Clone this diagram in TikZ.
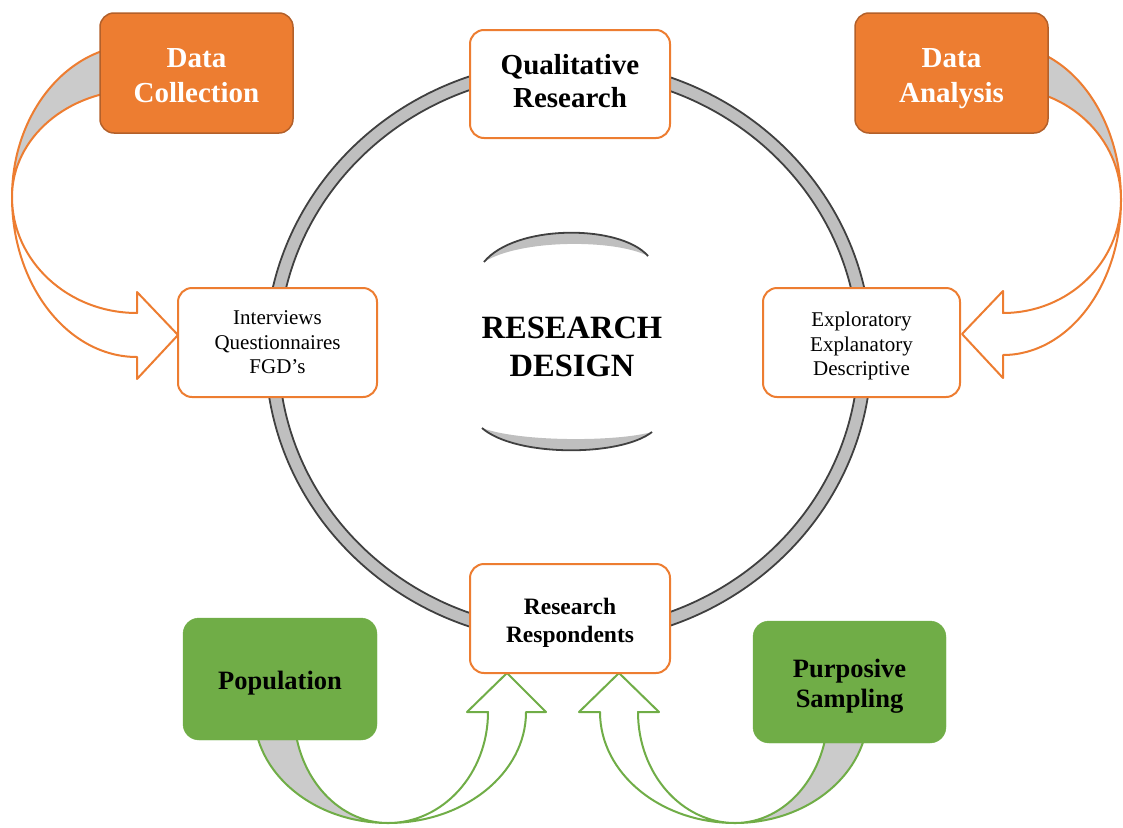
\documentclass[tikz,border=0pt]{standalone}
\usepackage{fontspec}
\setmainfont{Liberation Serif}
\definecolor{boxorange}{HTML}{ED7D31}
\definecolor{boxorangedark}{HTML}{B3602A}
\definecolor{boxgreen}{HTML}{70AD47}
\definecolor{bandgray}{HTML}{CBCBCB}
\definecolor{ringgray}{HTML}{BFBFBF}
\definecolor{ringline}{HTML}{404040}
% invisible struts that fix how far a box's text reaches above and below
\newcommand{\linetop}[1]{\rule{0pt}{#1}}
\newcommand{\linebot}[1]{\rule[-#1]{0pt}{#1}}
\tikzset{
    topbox/.style={rectangle, rounded corners=14pt, fill=boxorange, draw=boxorangedark, line width=1.5pt, text=white, align=center, inner sep=0, minimum width=193pt, minimum height=120pt, font=\bfseries\fontsize{29}{35}\selectfont},
    whitebox/.style={rectangle, rounded corners=14pt, draw=boxorange, fill=white, line width=2pt, align=center, inner sep=0, minimum height=109pt},
    greenbox/.style={rectangle, rounded corners=16pt, fill=boxgreen, draw=boxgreen, align=center, inner sep=0, minimum width=194pt, minimum height=122pt, font=\bfseries\fontsize{26.5}{30.5}\selectfont},
    ring/.style={fill=ringgray, draw=ringline, line width=1.8pt, even odd rule},
    orangeband/.style={draw=boxorange, line width=2pt, line join=round},
    greenband/.style={draw=boxgreen, line width=2pt, line join=round}
}

\begin{document}
\begin{tikzpicture}[x=1pt, y=-1pt]
    \useasboundingbox (0,0) rectangle (1123,827);

    % outer ring and the two inner arcs
    \draw[ring] (568.5,351.5) ellipse[x radius=303, y radius=291]
                (568.5,351.5) ellipse[x radius=290, y radius=278];
    \fill[ringgray] (484,262) .. controls (515,224) and (620,224) .. (648,256)
                    .. controls (615,239) and (520,239) .. cycle;
    \draw[ringline, line width=1.8pt] (484,262) .. controls (515,224) and (620,224) .. (648,256);
    \fill[ringgray] (482,428) .. controls (515,457) and (620,457) .. (652,432)
                    .. controls (615,442) and (520,442) .. cycle;
    \draw[ringline, line width=1.8pt] (482,428) .. controls (515,457) and (620,457) .. (652,432);

    % curved block arrows, back part first
    \draw[orangeband, fill=bandgray] (12,197) arc[start angle=180, end angle=270, x radius=125, y radius=152]
        -- (137,90) arc[start angle=270, end angle=180, x radius=125, y radius=107] -- cycle;
    \draw[orangeband, fill=white] (12,197) arc[start angle=180, end angle=90, x radius=125, y radius=160]
        -- (137,379) -- (178,335) -- (137,292) -- (137,313)
        arc[start angle=90, end angle=180, x radius=125, y radius=116] -- cycle;

    \draw[orangeband, fill=bandgray] (1121,200) arc[start angle=0, end angle=-90, x radius=118, y radius=155]
        -- (1003,88) arc[start angle=-90, end angle=0, x radius=118, y radius=112] -- cycle;
    \draw[orangeband, fill=white] (1121,200) arc[start angle=0, end angle=90, x radius=118, y radius=155]
        -- (1003,378) -- (962,334) -- (1003,291) -- (1003,313)
        arc[start angle=90, end angle=0, x radius=118, y radius=113] -- cycle;

    \draw[greenband, fill=bandgray] (388,823) arc[start angle=90, end angle=180, x radius=134, y radius=111]
        -- (294,712) arc[start angle=180, end angle=90, x radius=94, y radius=111] -- cycle;
    \draw[greenband, fill=white] (388,823) arc[start angle=90, end angle=0, x radius=138, y radius=111]
        -- (546,712) -- (507,673) -- (467,712) -- (488,712)
        arc[start angle=0, end angle=90, x radius=100, y radius=111] -- cycle;

    \draw[greenband, fill=bandgray] (735,823) arc[start angle=90, end angle=0, x radius=133, y radius=111]
        -- (828,712) arc[start angle=0, end angle=90, x radius=93, y radius=111] -- cycle;
    \draw[greenband, fill=white] (735,823) arc[start angle=90, end angle=180, x radius=135, y radius=111]
        -- (579,712) -- (619,673) -- (659,712) -- (638,712)
        arc[start angle=180, end angle=90, x radius=97, y radius=111] -- cycle;

    % boxes
    \node[topbox] (dcol) at (196.5,73) {\linetop{32pt}Data\\Collection\linebot{8.7pt}};
    \node[topbox] (dana) at (951.5,73) {\linetop{32pt}Data\\Analysis\linebot{8.7pt}};
    \node[whitebox, minimum width=200pt, minimum height=108pt, font=\bfseries\fontsize{29}{33}\selectfont] (qual) at (570,84) {\linetop{23pt}Qualitative\\Research\linebot{8.7pt}};
    \node[whitebox, minimum width=200pt, font=\bfseries\fontsize{23.5}{28}\selectfont] (resp) at (570,618.5) {\linetop{26.4pt}Research\\Respondents\linebot{7pt}};
    \node[whitebox, minimum width=199pt, font=\fontsize{21}{24.5}\selectfont] (intv) at (277.5,342.5) {\linetop{19.4pt}Interviews\\Questionnaires\\FGD’s\linebot{6.3pt}};
    \node[whitebox, minimum width=197pt, font=\fontsize{21}{24.5}\selectfont] (expl) at (861.5,342.5) {\linetop{24pt}Exploratory\\Explanatory\\Descriptive\linebot{6.3pt}};
    \node[greenbox] (popu) at (280,679) {\linetop{28.6pt}Population\linebot{8pt}};
    \node[greenbox, minimum width=193pt] (purp) at (849.5,682) {\linetop{28.6pt}Purposive\\Sampling\linebot{8pt}};
    \node[align=center, font=\bfseries\fontsize{32.5}{38}\selectfont] (rdes) at (572,347) {RESEARCH\\DESIGN};
\end{tikzpicture}
\end{document}
